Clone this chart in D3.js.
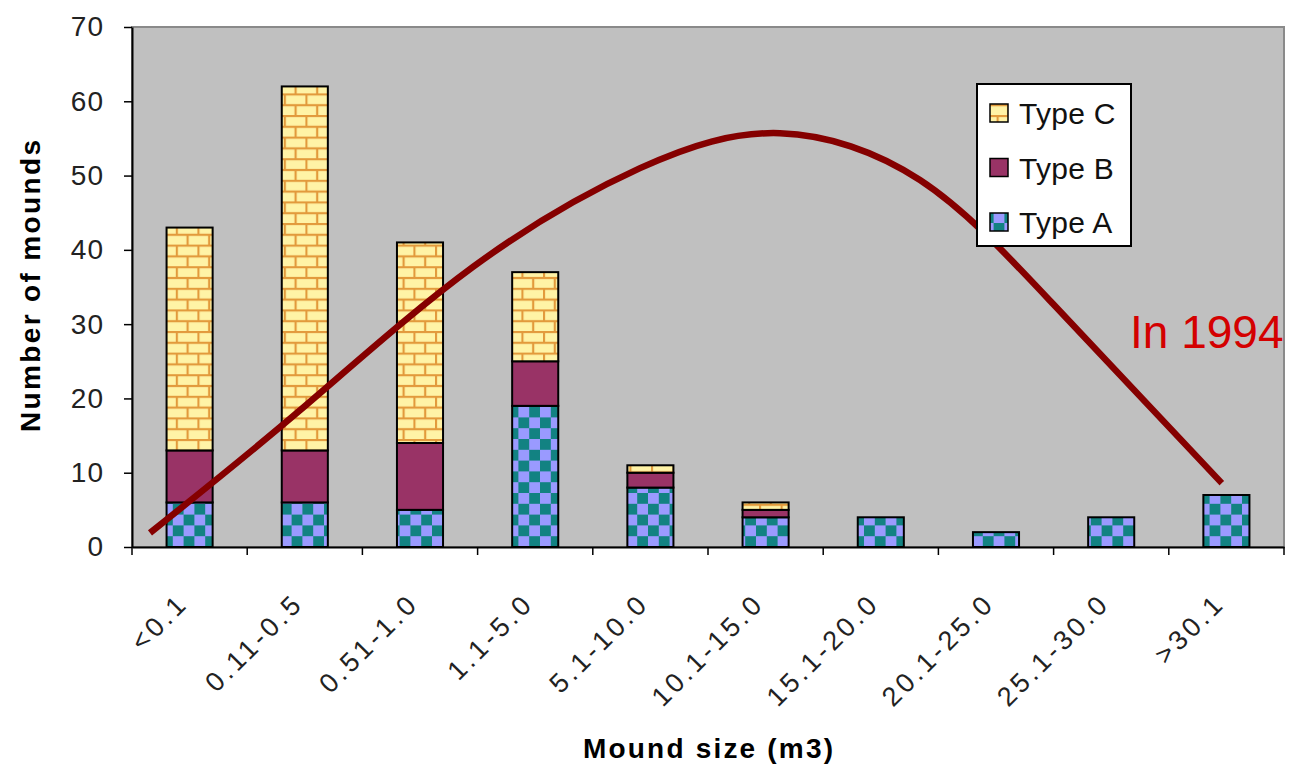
<!DOCTYPE html>
<html>
<head>
<meta charset="utf-8">
<script src="https://cdn.jsdelivr.net/npm/d3@7"></script>
<style>
  html, body { margin: 0; padding: 0; background: #ffffff; }
  svg { display: block; }
</style>
</head>
<body>
<svg id="chart" width="1289" height="765"></svg>
<script>
// ---- data ----
const categories = ["<0.1", "0.11-0.5", "0.51-1.0", "1.1-5.0", "5.1-10.0", "10.1-15.0", "15.1-20.0", "20.1-25.0", "25.1-30.0", ">30.1"];
const typeA = [6, 6, 5, 19, 8, 4, 4, 2, 4, 7];
const typeB = [7, 7, 9, 6, 2, 1, 0, 0, 0, 0];
const typeC = [30, 49, 27, 12, 1, 1, 0, 0, 0, 0];
const seriesNames = ["Type A", "Type B", "Type C"];
const yTicks = [0, 10, 20, 30, 40, 50, 60, 70];
// trend curve (position in category units, 0 = first category centre; value in mounds)
const curvePos = [-0.344, 0.958, 2.46, 3.91, 5.125, 6.34, 7.49, 8.96];
const curveVal = [1.9, 18.4, 37.7, 51.0, 55.7, 49.4, 32.8, 8.6];
const annotation = "In 1994";
const xTitle = "Mound size (m3)";
const yTitle = "Number of mounds";

// ---- layout ----
const svg = d3.select("#chart");
const plot = { left: 132, right: 1284, top: 27, bottom: 547 };

const x = d3.scaleBand().domain(categories).range([plot.left, plot.right]).paddingInner(0.6).paddingOuter(0.3);
const y = d3.scaleLinear().domain([0, 70]).range([plot.bottom, plot.top]);
const xPos = d3.scaleLinear().domain([-0.5, categories.length - 0.5]).range([plot.left, plot.right]);

// ---- patterns ----
const defs = svg.append("defs");
const cell = 10.8;
const pA = defs.append("pattern").attr("id", "patA").attr("patternUnits", "userSpaceOnUse")
  .attr("width", cell * 2).attr("height", cell * 2).attr("x", 0).attr("y", plot.bottom);
pA.append("rect").attr("width", cell * 2).attr("height", cell * 2).attr("fill", "#9a9aff");
pA.append("rect").attr("x", 0).attr("y", 0).attr("width", cell).attr("height", cell).attr("fill", "#128282");
pA.append("rect").attr("x", cell).attr("y", cell).attr("width", cell).attr("height", cell).attr("fill", "#128282");

const pC = defs.append("pattern").attr("id", "patC").attr("patternUnits", "userSpaceOnUse")
  .attr("width", cell * 2).attr("height", cell * 2).attr("x", 3).attr("y", plot.bottom);
pC.append("rect").attr("width", cell * 2).attr("height", cell * 2).attr("fill", "#fff3a6");
pC.append("line").attr("x1", 0).attr("x2", cell * 2).attr("y1", 1).attr("y2", 1).attr("stroke", "#e29a3c").attr("stroke-width", 2.2);
pC.append("line").attr("x1", 0).attr("x2", cell * 2).attr("y1", cell + 1).attr("y2", cell + 1).attr("stroke", "#e29a3c").attr("stroke-width", 2.2);
pC.append("line").attr("x1", 1).attr("x2", 1).attr("y1", 0).attr("y2", cell + 1).attr("stroke", "#e29a3c").attr("stroke-width", 2.2);
pC.append("line").attr("x1", cell + 1).attr("x2", cell + 1).attr("y1", cell + 1).attr("y2", cell * 2).attr("stroke", "#e29a3c").attr("stroke-width", 2.2);

const fills = { "Type A": "url(#patA)", "Type B": "#993366", "Type C": "url(#patC)" };

// ---- plot area ----
svg.append("rect").attr("x", plot.left).attr("y", plot.top)
  .attr("width", plot.right - plot.left).attr("height", plot.bottom - plot.top)
  .attr("fill", "#c0c0c0").attr("stroke", "#8a8a8a").attr("stroke-width", 2);

// ---- bars ----
const table = categories.map((c, i) => ({ cat: c, "Type A": typeA[i], "Type B": typeB[i], "Type C": typeC[i] }));
const stack = d3.stack().keys(seriesNames)(table);
const gBars = svg.append("g");
stack.forEach(layer => {
  gBars.append("g").selectAll("rect")
    .data(layer.filter(d => d[1] - d[0] > 0))
    .join("rect")
    .attr("x", d => x(d.data.cat))
    .attr("y", d => y(d[1]))
    .attr("width", x.bandwidth())
    .attr("height", d => y(d[0]) - y(d[1]))
    .attr("fill", fills[layer.key])
    .attr("stroke", "#000")
    .attr("stroke-width", 2);
});

// ---- axes ----
const yAxis = svg.append("g").attr("transform", `translate(${plot.left},0)`)
  .call(d3.axisLeft(y).tickValues(yTicks).tickSize(8).tickPadding(20).tickSizeOuter(0));
yAxis.select(".domain").attr("stroke", "#000").attr("stroke-width", 2);
yAxis.selectAll(".tick line").attr("stroke", "#000").attr("stroke-width", 1.5);
yAxis.selectAll("text").attr("font-family", "Liberation Sans, Arial, sans-serif")
  .attr("font-size", 28).attr("fill", "#222").attr("letter-spacing", 1);

const xAxis = svg.append("g").attr("transform", `translate(0,${plot.bottom})`)
  .call(d3.axisBottom(x).tickSize(0).tickSizeOuter(0));
xAxis.select(".domain").attr("stroke", "#000").attr("stroke-width", 2);
xAxis.selectAll("text")
  .attr("font-family", "Liberation Sans, Arial, sans-serif")
  .attr("font-size", 27).attr("fill", "#222").attr("letter-spacing", 3.5)
  .attr("text-anchor", "end")
  .attr("dy", 0).attr("y", 0)
  .attr("transform", "translate(0,58) rotate(-45)");
// boundary ticks between categories
svg.append("g").selectAll("line")
  .data(d3.range(categories.length + 1))
  .join("line")
  .attr("x1", i => xPos(i - 0.5)).attr("x2", i => xPos(i - 0.5))
  .attr("y1", plot.bottom).attr("y2", plot.bottom + 8)
  .attr("stroke", "#000").attr("stroke-width", 1.5);

// ---- titles ----
svg.append("text").attr("x", (plot.left + plot.right) / 2 + 0).attr("y", 758)
  .attr("text-anchor", "middle").attr("font-family", "Liberation Sans, Arial, sans-serif")
  .attr("font-weight", "bold").attr("font-size", 28).attr("fill", "#000")
  .attr("textLength", 250).attr("lengthAdjust", "spacing")
  .text(xTitle);

svg.append("text").attr("transform", "translate(40,286) rotate(-90)")
  .attr("text-anchor", "middle").attr("font-family", "Liberation Sans, Arial, sans-serif")
  .attr("font-weight", "bold").attr("font-size", 28).attr("fill", "#000")
  .attr("textLength", 292).attr("lengthAdjust", "spacing")
  .text(yTitle);

// ---- trend curve ----
const line = d3.line()
  .x(d => xPos(d[0])).y(d => y(d[1]))
  .curve(d3.curveNatural);
svg.append("path")
  .datum(curvePos.map((p, i) => [p, curveVal[i]]))
  .attr("d", line)
  .attr("fill", "none").attr("stroke", "#850000").attr("stroke-width", 6.5);

// ---- legend ----
const lg = svg.append("g");
lg.append("rect").attr("x", 977).attr("y", 84).attr("width", 154).attr("height", 162)
  .attr("fill", "#ffffff").attr("stroke", "#000").attr("stroke-width", 2);
const legendOrder = ["Type C", "Type B", "Type A"];
legendOrder.forEach((name, i) => {
  const cy = 113 + i * 54.5;
  lg.append("rect").attr("x", 990).attr("y", cy - 9).attr("width", 18).attr("height", 18)
    .attr("fill", fills[name]).attr("stroke", "#000").attr("stroke-width", 1.5);
  lg.append("text").attr("x", 1019).attr("y", cy + 11)
    .attr("font-family", "Liberation Sans, Arial, sans-serif").attr("font-size", 30)
    .attr("fill", "#111").attr("letter-spacing", 0.3)
    .text(name);
});

// ---- annotation ----
svg.append("text").attr("x", 1130).attr("y", 348)
  .attr("font-family", "Liberation Sans, Arial, sans-serif").attr("font-size", 46)
  .attr("fill", "#d40000").text(annotation);
</script>
</body>
</html>
